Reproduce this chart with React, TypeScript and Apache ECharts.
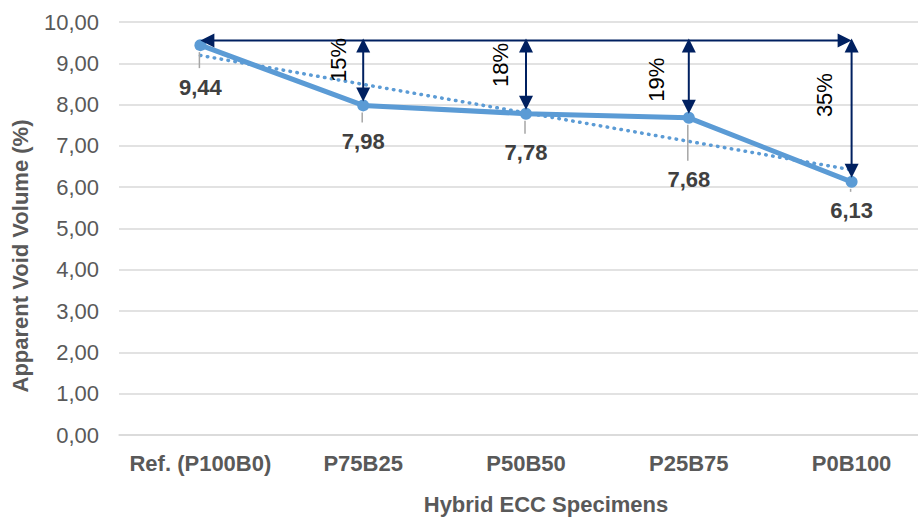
import React, { useEffect, useRef } from "react";
import * as echarts from "echarts";

const categories = ["Ref. (P100B0)", "P75B25", "P50B50", "P25B75", "P0B100"];
const voidVolume = [9.44, 7.98, 7.78, 7.68, 6.13];
const trendValues = [9.19, 8.49, 7.8, 7.11, 6.42];
const reductionLabels = ["15%", "18%", "19%", "35%"];
const yTickMin = 0;
const yTickMax = 10;
const yTickStep = 1;

// annotation layout (not data)
const arrowLevel = 9.55;
const labelDrop = [42, 36, 39, 62, 29];
const pctLabelY = [9.08, 8.96, 8.6, 8.23];
const pctLabelDx = [-25, -26, -32, -27];

const FONT = '"Liberation Sans", Arial, sans-serif';
const NAVY = "#002060";
const BLUE = "#5B9BD5";

const fmt = (v: number) => v.toFixed(2).replace(".", ",");

export default function App() {
  const ref = useRef<HTMLDivElement>(null);
  useEffect(() => {
    document.body.style.margin = "0";
    const chart = echarts.init(ref.current!, undefined, { renderer: "svg" });

    const arrowData: number[][] = [[0, arrowLevel, 4, arrowLevel]];
    for (let i = 1; i < categories.length; i++) {
      arrowData.push([i, arrowLevel, i, voidVolume[i]]);
    }

    const option: any = {
      animation: false,
      backgroundColor: "#ffffff",
      grid: {
        left: 119,
        right: -15,
        top: 22,
        bottom: 82,
        containLabel: false,
        outerBoundsMode: "none",
      },
      xAxis: {
        type: "category",
        data: categories,
        boundaryGap: true,
        axisLine: { show: true, lineStyle: { color: "#D9D9D9", width: 1.5 } },
        axisTick: { show: false },
        axisLabel: {
          interval: 0,
          color: "#595959",
          fontFamily: FONT,
          fontSize: 22,
          fontWeight: "bold",
          margin: 17,
        },
      },
      yAxis: {
        type: "value",
        min: yTickMin,
        max: yTickMax,
        interval: yTickStep,
        axisLine: { show: false },
        axisTick: { show: false },
        splitLine: { lineStyle: { color: "#D9D9D9", width: 1.5 } },
        axisLabel: {
          color: "#595959",
          fontFamily: FONT,
          fontSize: 22,
          margin: 20,
          formatter: (v: number) => fmt(v),
        },
      },
      graphic: [
        {
          type: "text",
          x: 546,
          y: 504,
          style: {
            text: "Hybrid ECC Specimens",
            font: `bold 22px ${FONT}`,
            fill: "#595959",
            textAlign: "center",
            textVerticalAlign: "middle",
          },
        },
        {
          type: "text",
          x: 20,
          y: 256,
          rotation: Math.PI / 2,
          style: {
            text: "Apparent Void Volume (%)",
            font: `bold 22px ${FONT}`,
            fill: "#595959",
            textAlign: "center",
            textVerticalAlign: "middle",
          },
        },
      ],
      series: [
        {
          type: "line",
          name: "trend",
          data: trendValues,
          symbol: "none",
          lineStyle: { color: BLUE, width: 3.5, type: [0.5, 6.5], cap: "round" },
          z: 1,
        },
        {
          type: "line",
          name: "Apparent Void Volume",
          data: voidVolume,
          symbol: "circle",
          symbolSize: 12,
          itemStyle: { color: BLUE },
          lineStyle: { color: BLUE, width: 5 },
          z: 3,
        },
        {
          type: "custom",
          name: "valueLabels",
          data: voidVolume.map((v, i) => [i, v]),
          z: 4,
          renderItem: (params: any, api: any) => {
            const i = api.value(0);
            const v = api.value(1);
            const p = api.coord([i, v]);
            const drop = labelDrop[i];
            return {
              type: "group",
              children: [
                {
                  type: "line",
                  shape: { x1: p[0] - 1, y1: p[1] + 7, x2: p[0] - 1, y2: p[1] + drop - 19 },
                  style: { stroke: "#A6A6A6", lineWidth: 1.5 },
                },
                {
                  type: "text",
                  x: p[0],
                  y: p[1] + drop,
                  style: {
                    text: fmt(v),
                    font: `bold 22px ${FONT}`,
                    fill: "#404040",
                    textAlign: "center",
                    textVerticalAlign: "middle",
                  },
                },
              ],
            };
          },
        },
        {
          type: "custom",
          name: "arrows",
          data: arrowData,
          z: 5,
          renderItem: (params: any, api: any) => {
            const p1 = api.coord([api.value(0), api.value(1)]);
            const p2 = api.coord([api.value(2), api.value(3)]);
            const vertical = Math.abs(p1[0] - p2[0]) < 1;
            if (vertical) {
              p1[1] -= 2;
              p2[1] -= 4;
            }
            const dx = p2[0] - p1[0];
            const dy = p2[1] - p1[1];
            const len = Math.sqrt(dx * dx + dy * dy) || 1;
            const ux = dx / len;
            const uy = dy / len;
            const nx = -uy;
            const ny = ux;
            const L = 14;
            const W = 7;
            const head = (tip: number[], sx: number, sy: number) => {
              const bx = tip[0] - sx * L;
              const by = tip[1] - sy * L;
              return {
                type: "polygon",
                shape: {
                  points: [
                    [tip[0], tip[1]],
                    [bx + nx * W, by + ny * W],
                    [bx - nx * W, by - ny * W],
                  ],
                },
                style: { fill: NAVY },
              };
            };
            return {
              type: "group",
              children: [
                {
                  type: "line",
                  shape: {
                    x1: p1[0] + ux * (L - 1),
                    y1: p1[1] + uy * (L - 1),
                    x2: p2[0] - ux * (L - 1),
                    y2: p2[1] - uy * (L - 1),
                  },
                  style: { stroke: NAVY, lineWidth: 2 },
                },
                head(p2, ux, uy),
                head(p1, -ux, -uy),
              ],
            };
          },
        },
        {
          type: "custom",
          name: "reductionLabels",
          data: reductionLabels.map((_, k) => [k + 1, pctLabelY[k]]),
          z: 6,
          renderItem: (params: any, api: any) => {
            const i = api.value(0);
            const p = api.coord([i, api.value(1)]);
            return {
              type: "text",
              x: p[0] + pctLabelDx[i - 1],
              y: p[1],
              rotation: Math.PI / 2,
              style: {
                text: reductionLabels[i - 1],
                font: `22px ${FONT}`,
                fill: "#000000",
                textAlign: "center",
                textVerticalAlign: "middle",
              },
            };
          },
        },
      ],
    };
    chart.setOption(option);
    return () => chart.dispose();
  }, []);
  return <div ref={ref} style={{ width: 918, height: 517 }} />;
}
